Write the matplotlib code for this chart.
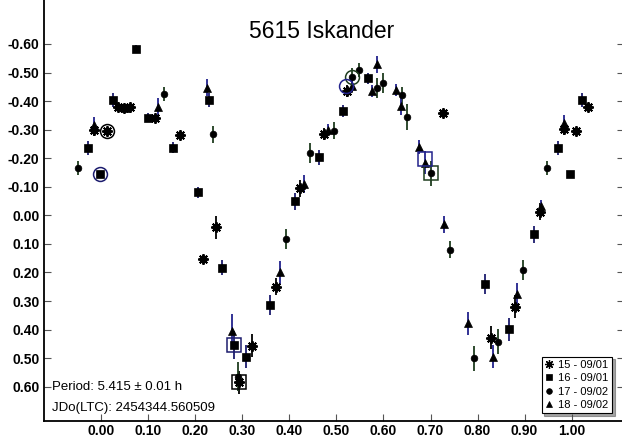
import matplotlib
matplotlib.use("Agg")
import matplotlib.pyplot as plt
from matplotlib.lines import Line2D

plt.rcParams['font.family'] = ['Liberation Sans', 'DejaVu Sans']

# ---------------- data ----------------
title = "5615 Iskander"
period_text = "Period: 5.415 \u00b1 0.01 h"
jd_text = "JDo(LTC): 2454344.560509"

labels = ["15 - 09/01", "16 - 09/01", "17 - 09/02", "18 - 09/02"]

s15_x = [-0.015, 0.011, 0.035, 0.047, 0.061, 0.114, 0.166, 0.217, 0.243, 0.293, 0.320,
         0.371, 0.422, 0.474, 0.522, 0.726, 0.829, 0.880, 0.933, 0.985, 1.010, 1.036]
s15_y = [-0.299, -0.296, -0.378, -0.375, -0.378, -0.342, -0.281, 0.153, 0.042, 0.585, 0.457,
         0.250, -0.095, -0.285, -0.435, -0.357, 0.428, 0.320, -0.013, -0.301, -0.296, -0.380]
s15_e = [0.02, 0.01, 0.01, 0.01, 0.01, 0.01, 0.01, 0.015, 0.04, 0.04, 0.04,
         0.03, 0.03, 0.02, 0.02, 0.01, 0.04, 0.04, 0.03, 0.02, 0.01, 0.01]

s16_x = [-0.028, -0.0025, 0.024, 0.050, 0.073, 0.100, 0.153, 0.205, 0.229, 0.256, 0.281,
         0.307, 0.359, 0.411, 0.463, 0.513, 0.566, 0.816, 0.868, 0.920, 0.972, 0.997, 1.022]
s16_y = [-0.237, -0.144, -0.404, -0.376, -0.582, -0.342, -0.237, -0.081, -0.404, 0.183, 0.454,
         0.495, 0.315, -0.050, -0.203, -0.365, -0.480, 0.241, 0.399, 0.066, -0.237, -0.144, -0.404]
s16_e = [0.025, 0.01, 0.025, 0.01, 0.015, 0.015, 0.02, 0.02, 0.025, 0.025, 0.05,
         0.04, 0.035, 0.03, 0.025, 0.02, 0.02, 0.035, 0.04, 0.03, 0.025, 0.01, 0.025]

s17_x = [-0.050, 0.134, 0.237, 0.290, 0.393, 0.444, 0.495, 0.534, 0.548, 0.587, 0.598,
         0.639, 0.650, 0.702, 0.741, 0.793, 0.844, 0.897, 0.947]
s17_y = [-0.165, -0.424, -0.284, 0.565, 0.082, -0.219, -0.296, -0.486, -0.509, -0.445, -0.464,
         -0.421, -0.345, -0.147, 0.121, 0.501, 0.442, 0.191, -0.165]
s17_e = [0.025, 0.025, 0.03, 0.05, 0.035, 0.035, 0.03, 0.03, 0.025, 0.035, 0.035,
         0.03, 0.045, 0.045, 0.03, 0.045, 0.045, 0.035, 0.025]

s18_x = [-0.015, 0.121, 0.225, 0.277, 0.380, 0.431, 0.482, 0.534, 0.575, 0.5855, 0.626,
         0.637, 0.676, 0.689, 0.729, 0.780, 0.833, 0.883, 0.935, 0.985]
s18_y = [-0.316, -0.380, -0.447, 0.404, 0.199, -0.110, -0.300, -0.453, -0.435, -0.529, -0.439,
         -0.383, -0.240, -0.184, 0.031, 0.378, 0.495, 0.276, -0.033, -0.322]
s18_e = [0.03, 0.03, 0.03, 0.06, 0.04, 0.03, 0.02, 0.02, 0.02, 0.03, 0.02,
         0.03, 0.025, 0.04, 0.03, 0.04, 0.04, 0.04, 0.02, 0.03]

# first (circle) and last (square) point of each session
first_x = [0.011, -0.0025, 0.534, 0.520]
first_y = [-0.296, -0.144, -0.486, -0.453]
last_x = [0.293, 0.281, 0.702, 0.689]
last_y = [0.585, 0.454, -0.147, -0.196]

yticks = [-0.6, -0.5, -0.4, -0.3, -0.2, -0.1, 0.0, 0.1, 0.2, 0.3, 0.4, 0.5, 0.6]
ytick_labels = ["-0.60", "-0.50", "-0.40", "-0.30", "-0.20", "-0.10", "0.00",
                "0.10", "0.20", "0.30", "0.40", "0.50", "0.60"]
xticks = [0.0, 0.1, 0.2, 0.3, 0.4, 0.5, 0.6, 0.7, 0.8, 0.9, 1.0]
xtick_labels = ["0.00", "0.10", "0.20", "0.30", "0.40", "0.50", "0.60",
                "0.70", "0.80", "0.90", "1.00"]

# ---------------- style ----------------
sess_colors = ["#000000", "#1c1c6e", "#1f3d1f", "#22228c"]
markers = [(8, 2, 0), "s", "o", "^"]
msizes = [7.5, 5.4, 4.8, 5.2]
mews = [1.4, 0.5, 0.5, 0.5]
leg_mews = [0.9, 0.5, 0.5, 0.5]

W, H = 622, 437
fig = plt.figure(figsize=(W / 100, H / 100), dpi=100)
ax = fig.add_axes([43.5 / W, 16 / H, (624 - 43.5) / W, (H + 2 - 16) / H])

series = [(s15_x, s15_y, s15_e), (s16_x, s16_y, s16_e),
          (s17_x, s17_y, s17_e), (s18_x, s18_y, s18_e)]
for i, (xs, ys, es) in enumerate(series):
    ax.errorbar(xs, ys, yerr=es, fmt="none", ecolor=sess_colors[i], elinewidth=1.3,
                capsize=0, zorder=2)
    ax.plot(xs, ys, linestyle="none", marker=markers[i], markersize=msizes[i],
            color="black", markeredgecolor="black", markeredgewidth=mews[i], zorder=3)

for i in range(4):
    ax.plot([first_x[i]], [first_y[i]], linestyle="none", marker="o", markersize=10,
            markerfacecolor="none", markeredgecolor=sess_colors[i], markeredgewidth=1.1, zorder=4)
    ax.plot([last_x[i]], [last_y[i]], linestyle="none", marker="s", markersize=10,
            markerfacecolor="none", markeredgecolor=sess_colors[i], markeredgewidth=1.1, zorder=4)

ax.set_xlim(-0.1234, 1.1117)
ax.set_ylim(0.720, -0.761)

ax.set_xticks(xticks)
ax.set_xticklabels(xtick_labels, fontweight="bold", fontsize=10)
ax.set_yticks(yticks)
ax.set_yticklabels(ytick_labels, fontweight="bold", fontsize=10)
ax.tick_params(axis="x", direction="in", length=5, width=0.8, color="#555555", pad=2,
               bottom=True, top=False)
ax.tick_params(axis="y", direction="in", length=5, width=0.8, color="#555555", pad=3,
               left=True, right=True)
for side in ["top", "right"]:
    ax.spines[side].set_visible(False)
for side in ["left", "bottom"]:
    ax.spines[side].set_linewidth(1.3)

fig.text(321.5 / W, 1 - 32 / H, title, ha="center", va="center", fontsize=16.5)
fig.text(52 / W, 1 - 387 / H, period_text, ha="left", va="center", fontsize=9.5)
fig.text(52 / W, 1 - 408 / H, jd_text, ha="left", va="center", fontsize=9.5)

handles = [Line2D([], [], linestyle="none", marker=markers[i], markersize=msizes[i] * 0.85,
                  color="black", markeredgewidth=leg_mews[i]) for i in range(4)]
leg = ax.legend(handles, labels, loc="lower right", bbox_to_anchor=(0.979, 0.018),
                fontsize=8, frameon=True, fancybox=False, shadow=True,
                handlelength=0.8, handletextpad=0.4, labelspacing=0.3,
                borderpad=0.3, borderaxespad=0)
leg.get_frame().set_edgecolor("black")
leg.get_frame().set_linewidth(0.8)

fig.savefig("out.png", dpi=100)
